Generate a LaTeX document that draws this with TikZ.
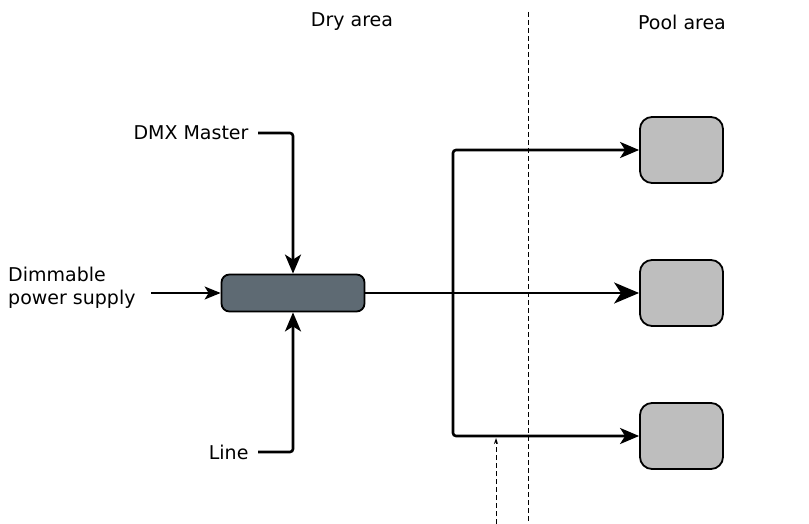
\documentclass[tikz,border=0pt]{standalone}
\usepackage{fontspec}
\setmainfont{DejaVu Sans}
\usepackage{tikz}
\usetikzlibrary{arrows.meta,positioning,calc}
\definecolor{hubgray}{HTML}{5E6A73}
\definecolor{poolgray}{HTML}{BEBEBE}

\begin{document}
\begin{tikzpicture}[x=1pt, y=-1pt,
        font=\fontsize{19}{23}\selectfont,
        hubbox/.style={draw, line width=1.8pt, fill=hubgray, rounded corners=8pt,
          minimum width=143pt, minimum height=37pt, inner sep=0pt},
        poolbox/.style={draw, line width=1.8pt, fill=poolgray, rounded corners=12pt,
          minimum width=83pt, minimum height=66pt, inner sep=0pt},
        feedline/.style={line width=2.6pt, rounded corners=3pt, -{Stealth[length=19pt, width=16pt, inset=5pt]}},
        thinfeed/.style={line width=1.5pt, -{Stealth[length=16pt, width=13pt, inset=4pt]}},
        border/.style={dashed, dash pattern=on 5pt off 3pt, line width=0.9pt}]
        \useasboundingbox (0,0) rectangle (809,524);
        % areas
        \node (dry) at (352,22) {Dry area};
        \node (pool) at (682,22) {Pool area};
        \draw[border] (528,12) -- (528,524);
        % dry side
        \node[hubbox] (hub) at (293,293) {};
        \node[anchor=east] (dmx) at (252,133) {DMX Master};
        \node[anchor=east] (line) at (252,452) {Line};
        \node[anchor=west, align=left, inner sep=0pt] (dim) at (8,288) {Dimmable\\power supply};
        \draw[feedline] ([xshift=6pt]dmx.east) -| (hub.north);
        \draw[feedline] ([xshift=6pt]line.east) -| (hub.south);
        \draw[thinfeed] (151,293) -- (hub.west);
        % pool side
        \foreach \name/\y in {poolA/150, poolB/293, poolC/436} {
          \node[poolbox] (\name) at (681.5,\y) {};
        };
        \coordinate (split) at (453,293);
        \draw[feedline, -{Stealth[length=25pt, width=21pt, inset=7pt]}] (hub.east) -- (poolB.west);
        \draw[feedline] (split) |- (poolA.west);
        \draw[feedline] (split) |- (poolC.west);
        \coordinate (cable) at (496,524);
        \draw[border, line width=1pt, -{Stealth[length=6pt, width=4pt]}] (cable) -- (496,438);
      \end{tikzpicture}
\end{document}
